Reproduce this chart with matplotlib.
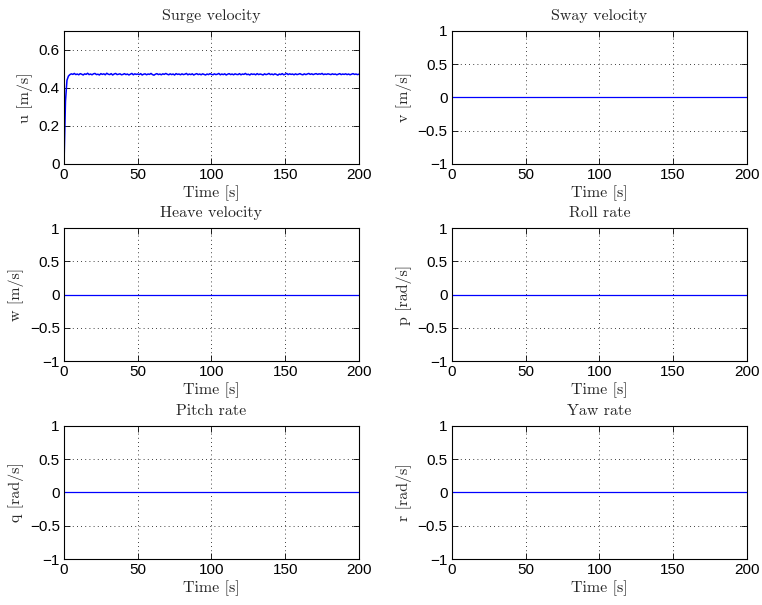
import matplotlib
matplotlib.use("Agg")
import matplotlib.pyplot as plt
import numpy as np

# time axis [s], 1 s samples
time = list(range(0, 201))

# surge velocity u [m/s]
surge = [
    0.000, 0.330, 0.440, 0.462, 0.470, 0.474, 0.471, 0.476, 0.470, 0.473,
    0.469, 0.475, 0.472, 0.468, 0.474, 0.471, 0.477, 0.470, 0.473, 0.469,
    0.474, 0.476, 0.470, 0.472, 0.468, 0.475, 0.471, 0.474, 0.469, 0.477,
    0.472, 0.470, 0.475, 0.468, 0.473, 0.476, 0.470, 0.472, 0.474, 0.469,
    0.471, 0.475, 0.470, 0.473, 0.468, 0.472, 0.476, 0.469, 0.474, 0.471,
    0.473, 0.470, 0.475, 0.468, 0.472, 0.474, 0.469, 0.473, 0.471, 0.476,
    0.470, 0.467, 0.472, 0.475, 0.470, 0.473, 0.469, 0.474, 0.471, 0.476,
    0.472, 0.469, 0.474, 0.470, 0.473, 0.468, 0.475, 0.471, 0.473, 0.469,
    0.474, 0.470, 0.472, 0.476, 0.469, 0.473, 0.470, 0.474, 0.468, 0.472,
    0.475, 0.470, 0.473, 0.469, 0.474, 0.471, 0.468, 0.473, 0.470, 0.475,
    0.471, 0.469, 0.474, 0.470, 0.472, 0.476, 0.469, 0.473, 0.470, 0.474,
    0.468, 0.472, 0.475, 0.470, 0.473, 0.469, 0.474, 0.471, 0.470, 0.475,
    0.469, 0.473, 0.471, 0.476, 0.470, 0.472, 0.468, 0.474, 0.471, 0.473,
    0.469, 0.475, 0.470, 0.473, 0.471, 0.468, 0.474, 0.470, 0.472, 0.476,
    0.470, 0.473, 0.469, 0.474, 0.471, 0.467, 0.473, 0.470, 0.475, 0.469,
    0.472, 0.476, 0.470, 0.474, 0.471, 0.473, 0.469, 0.474, 0.470, 0.472,
    0.475, 0.471, 0.469, 0.474, 0.470, 0.473, 0.476, 0.471, 0.474, 0.470,
    0.473, 0.475, 0.471, 0.474, 0.472, 0.476, 0.470, 0.473, 0.471, 0.474,
    0.472, 0.470, 0.474, 0.471, 0.473, 0.469, 0.472, 0.475, 0.470, 0.473,
    0.471, 0.474, 0.470, 0.473, 0.469, 0.472, 0.475, 0.471, 0.473, 0.470,
    0.472,
]

# the other five states stay at zero over the whole run
sway = [0.0] * len(time)
heave = [0.0] * len(time)
roll = [0.0] * len(time)
pitch = [0.0] * len(time)
yaw = [0.0] * len(time)

titles = ["Surge velocity", "Sway velocity", "Heave velocity",
          "Roll rate", "Pitch rate", "Yaw rate"]
ylabels = ["u [m/s]", "v [m/s]", "w [m/s]", "p [rad/s]", "q [rad/s]", "r [rad/s]"]
series = [surge, sway, heave, roll, pitch, yaw]

serif = "cmr10"
tickfont = "Liberation Sans"
txtcol = "#262626"

fig = plt.figure(figsize=(7.62, 6.05), dpi=100)

lefts = [0.084, 0.593]
bottoms = [0.729, 0.403, 0.076]
w, h = 0.387, 0.220

for i in range(6):
    row, col = divmod(i, 2)
    ax = fig.add_axes([lefts[col], bottoms[row], w, h])
    lw = 1.1 if i == 0 else 0.9
    ax.plot(time, series[i], color="#0000ff", lw=lw)
    ax.set_xlim(0, 200)
    ax.set_xticks([0, 50, 100, 150, 200])
    if i == 0:
        ax.set_ylim(0, 0.7)
        ax.set_yticks([0, 0.2, 0.4, 0.6])
        ax.set_yticklabels(["0", "0.2", "0.4", "0.6"])
    else:
        ax.set_ylim(-1, 1)
        ax.set_yticks([-1, -0.5, 0, 0.5, 1])
        ax.set_yticklabels(["\u22121", "\u22120.5", "0", "0.5", "1"])
    ax.grid(True, color="black", linestyle=(0, (1, 4)), linewidth=0.6)
    ax.tick_params(direction="in", top=True, right=True, length=4, width=0.6,
                   labelsize=11, pad=3)
    for lab in ax.get_xticklabels() + ax.get_yticklabels():
        lab.set_fontfamily(tickfont)
    for sp in ax.spines.values():
        sp.set_linewidth(0.8)
    ax.set_title(titles[i], fontfamily=serif, fontsize=11.5, pad=8, color=txtcol)
    ax.set_xlabel("Time [s]", fontfamily=serif, fontsize=11.5, labelpad=2, color=txtcol)
    ax.set_ylabel(ylabels[i], fontfamily=serif, fontsize=11.5, labelpad=4, color=txtcol)

fig.savefig("out.png", dpi=100)
